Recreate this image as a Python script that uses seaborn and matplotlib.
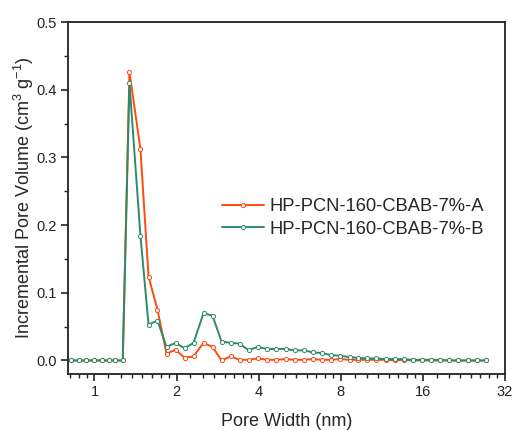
import numpy as np
import pandas as pd
import seaborn as sns
import matplotlib
matplotlib.use("Agg")
import matplotlib.pyplot as plt
from matplotlib.ticker import FixedLocator, FixedFormatter, NullFormatter

# ---- data ----
pore_width = [0.821, 0.876, 0.932, 1.000, 1.064, 1.135, 1.194, 1.270,
              1.344, 1.475, 1.579, 1.703, 1.838, 1.983, 2.140, 2.309,
              2.513, 2.711, 2.926, 3.157, 3.406, 3.676, 3.967, 4.305,
              4.646, 5.025, 5.423, 5.852, 6.314, 6.813, 7.352, 7.934,
              8.633, 9.235, 9.97, 10.75, 11.70, 12.63, 13.63, 14.70,
              15.87, 17.12, 18.47, 19.93, 21.51, 23.41, 25.26, 27.25]

vol_A = [0, 0, 0, 0, 0, 0, 0, 0,
         0.426, 0.312, 0.124, 0.075, 0.010, 0.016, 0.004, 0.006,
         0.026, 0.020, 0.000, 0.006, 0.001, 0.001, 0.003, 0.001,
         0.001, 0.002, 0.001, 0.001, 0.002, 0.001, 0.001, 0.002,
         0.001, 0.001, 0.001, 0.001, 0.001, 0.000, 0.001, 0.000,
         0.000, 0.000, 0.000, 0.000, 0.000, 0.000, 0.000, 0.000]

vol_B = [0, 0, 0, 0, 0, 0, 0, 0,
         0.410, 0.184, 0.053, 0.059, 0.020, 0.026, 0.018, 0.026,
         0.070, 0.066, 0.028, 0.026, 0.025, 0.015, 0.020, 0.017,
         0.017, 0.017, 0.015, 0.015, 0.012, 0.011, 0.008, 0.007,
         0.005, 0.004, 0.003, 0.003, 0.002, 0.002, 0.002, 0.001,
         0.001, 0.001, 0.001, 0.000, 0.000, 0.000, 0.000, 0.000]

labels = ["HP-PCN-160-CBAB-7%-A", "HP-PCN-160-CBAB-7%-B"]
colors = ["#FF4A12", "#2E8A6C"]
x_ticks = [1, 2, 4, 8, 16, 32]
x_ticklabels = ["1", "2", "4", "8", "16", "32"]
y_ticks = [0.0, 0.1, 0.2, 0.3, 0.4, 0.5]

df = pd.DataFrame({
    "Pore Width": pore_width * 2,
    "Volume": vol_A + vol_B,
    "Sample": [labels[0]] * len(pore_width) + [labels[1]] * len(pore_width),
})

sns.set_theme(style="ticks")
plt.rcParams["font.family"] = ["Liberation Sans", "DejaVu Sans"]
plt.rcParams["mathtext.fontset"] = "custom"
plt.rcParams["mathtext.rm"] = "Liberation Sans"
plt.rcParams["mathtext.it"] = "Liberation Sans:italic"

fig = plt.figure(figsize=(5.13, 4.30), dpi=100)
fig.patch.set_facecolor("white")
ax = fig.add_axes([0.1326, 0.1302, 0.8514, 0.8186])

for lab, col in zip(labels, colors):
    sns.lineplot(data=df[df["Sample"] == lab], x="Pore Width", y="Volume",
                 ax=ax, color=col, lw=1.4, marker="o", markersize=3.0,
                 markerfacecolor="white", markeredgecolor=col,
                 markeredgewidth=0.7, label=lab, estimator=None, sort=False)

ax.set_xscale("log", base=2)
ax.set_xlim(0.8, 32)
ax.set_ylim(-0.02, 0.5)

ax.xaxis.set_major_locator(FixedLocator(x_ticks))
ax.xaxis.set_major_formatter(FixedFormatter(x_ticklabels))
minor = []
for base in [0.5, 1, 2, 4, 8, 16]:
    for k in range(1, 8):
        v = base * (1 + k / 8)
        if 0.8 <= v <= 32:
            minor.append(v)
ax.xaxis.set_minor_locator(FixedLocator(minor))
ax.xaxis.set_minor_formatter(NullFormatter())

ax.set_yticks(y_ticks)
ax.set_yticklabels([f"{v:.1f}" for v in y_ticks])
ax.yaxis.set_minor_locator(FixedLocator([0.05, 0.15, 0.25, 0.35, 0.45]))

ax.tick_params(axis="both", which="major", direction="out", length=5,
               width=1.2, labelsize=10.5, colors="#222222", pad=3)
ax.tick_params(axis="both", which="minor", direction="out", length=3,
               width=1.0, colors="#222222")
ax.tick_params(top=False, right=False, which="both")
for s in ax.spines.values():
    s.set_linewidth(1.3)
    s.set_color("#222222")

ax.set_xlabel("Pore Width (nm)", fontsize=13, labelpad=10)
ax.set_ylabel("Incremental Pore Volume (cm$^{3}$ g$^{-1}$)", fontsize=13,
              labelpad=0)

leg = ax.legend(loc="upper left", bbox_to_anchor=(0.335, 0.52), frameon=False,
                fontsize=13.2, handlelength=2.3, handletextpad=0.3,
                labelspacing=0.3, borderaxespad=0)

fig.savefig("out.png", dpi=100, facecolor="white")
